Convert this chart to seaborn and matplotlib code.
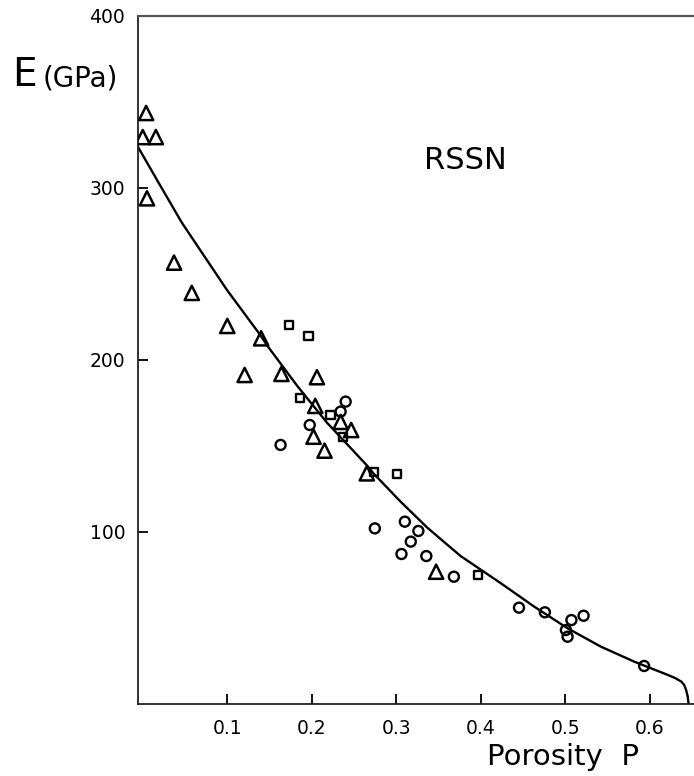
import numpy as np
import pandas as pd
import matplotlib
matplotlib.use("Agg")
import matplotlib.pyplot as plt
import seaborn as sns

# porosity / Young's modulus readings, RSSN
tri_P = [0.004, 0.000, 0.0155, 0.005, 0.037, 0.058, 0.100, 0.140, 0.1205, 0.164,
         0.206, 0.204, 0.234, 0.2465, 0.202, 0.215, 0.265, 0.347]
tri_E = [343.6, 329.6, 329.6, 294.0, 256.6, 239.0, 219.8, 212.6, 191.3, 191.9,
         190.0, 173.3, 164.0, 159.3, 155.4, 147.3, 134.1, 76.9]

sq_P = [0.1735, 0.196, 0.1865, 0.222, 0.2366, 0.273, 0.301, 0.3966]
sq_E = [220.2, 214.0, 177.7, 168.0, 155.4, 135.0, 133.7, 75.0]

circ_P = [0.240, 0.234, 0.1975, 0.163, 0.2745, 0.310, 0.326, 0.317, 0.306, 0.3354,
          0.368, 0.445, 0.4756, 0.507, 0.5214, 0.5005, 0.5025, 0.593]
circ_E = [175.8, 170.0, 162.2, 150.6, 102.1, 106.0, 100.6, 94.4, 87.2, 86.0,
          74.0, 56.0, 53.3, 48.8, 51.3, 43.0, 39.1, 22.1]

# fitted curve
fit_P = [-0.007, 0.02, 0.046, 0.0996, 0.139, 0.147, 0.1826, 0.19, 0.218, 0.2655,
         0.273, 0.305, 0.3366, 0.364, 0.376, 0.4235, 0.463, 0.5025, 0.542, 0.5814,
         0.605, 0.621, 0.630, 0.637, 0.6405, 0.6427, 0.6445, 0.6455]
fit_E = [325.0, 302.0, 280.0, 240.7, 214.5, 208.5, 185.0, 180.5, 163.5, 138.5,
         134.0, 117.6, 102.5, 91.0, 86.0, 70.2, 56.6, 44.0, 33.3, 24.6,
         20.0, 16.9, 15.0, 13.0, 11.0, 8.1, 4.5, 0.5]

xticks = [0.1, 0.2, 0.3, 0.4, 0.5, 0.6]
yticks = [100, 200, 300, 400]

sns.set_style("white")
plt.rcParams['font.family'] = ['DejaVu Sans']
plt.rcParams['text.color'] = 'black'

fig = plt.figure(figsize=(6.94, 7.76), dpi=100)
ax = fig.add_axes([0.1984, 0.0928, 0.8016, 0.8866])

fit = pd.DataFrame({"P": fit_P, "E": fit_E})
sns.lineplot(data=fit, x="P", y="E", ax=ax, color="black", lw=1.7,
             sort=False, estimator=None)

sns.scatterplot(x=tri_P, y=tri_E, ax=ax, marker="^", s=105, facecolor="none",
                edgecolor="black", linewidth=1.8, zorder=3)
sns.scatterplot(x=sq_P, y=sq_E, ax=ax, marker="s", s=34, facecolor="none",
                edgecolor="black", linewidth=1.7, zorder=3)
sns.scatterplot(x=circ_P, y=circ_E, ax=ax, marker="o", s=52, facecolor="none",
                edgecolor="black", linewidth=1.7, zorder=3)

ax.set_xlim(-0.006, 0.652)
ax.set_ylim(0, 400)
ax.set_xticks(xticks)
ax.set_xticklabels([str(t) for t in xticks])
ax.set_yticks(yticks)
ax.set_yticklabels([str(t) for t in yticks])
ax.tick_params(bottom=True, left=True, direction="in", length=7, width=1.3,
               labelsize=13.5, colors="black", pad=9)
ax.tick_params(axis="x", pad=11)
ax.set_xlabel("")
ax.set_ylabel("")

ax.spines["right"].set_visible(False)
ax.spines["top"].set_color("#555555")
ax.spines["top"].set_linewidth(1.6)
for side in ["left", "bottom"]:
    ax.spines[side].set_color("#222222")
    ax.spines[side].set_linewidth(1.3)

ax.text(0.382, 316, "RSSN", ha="center", va="center", fontsize=22, color="black")

fig.text(0.0173, 0.889, "E", fontsize=28, va="baseline", ha="left")
fig.text(0.062, 0.889, "(GPa)", fontsize=20, va="baseline", ha="left")
fig.text(0.7017, 0.0142, "Porosity  P", fontsize=21, va="baseline", ha="left")

fig.savefig("out.png", dpi=100)
